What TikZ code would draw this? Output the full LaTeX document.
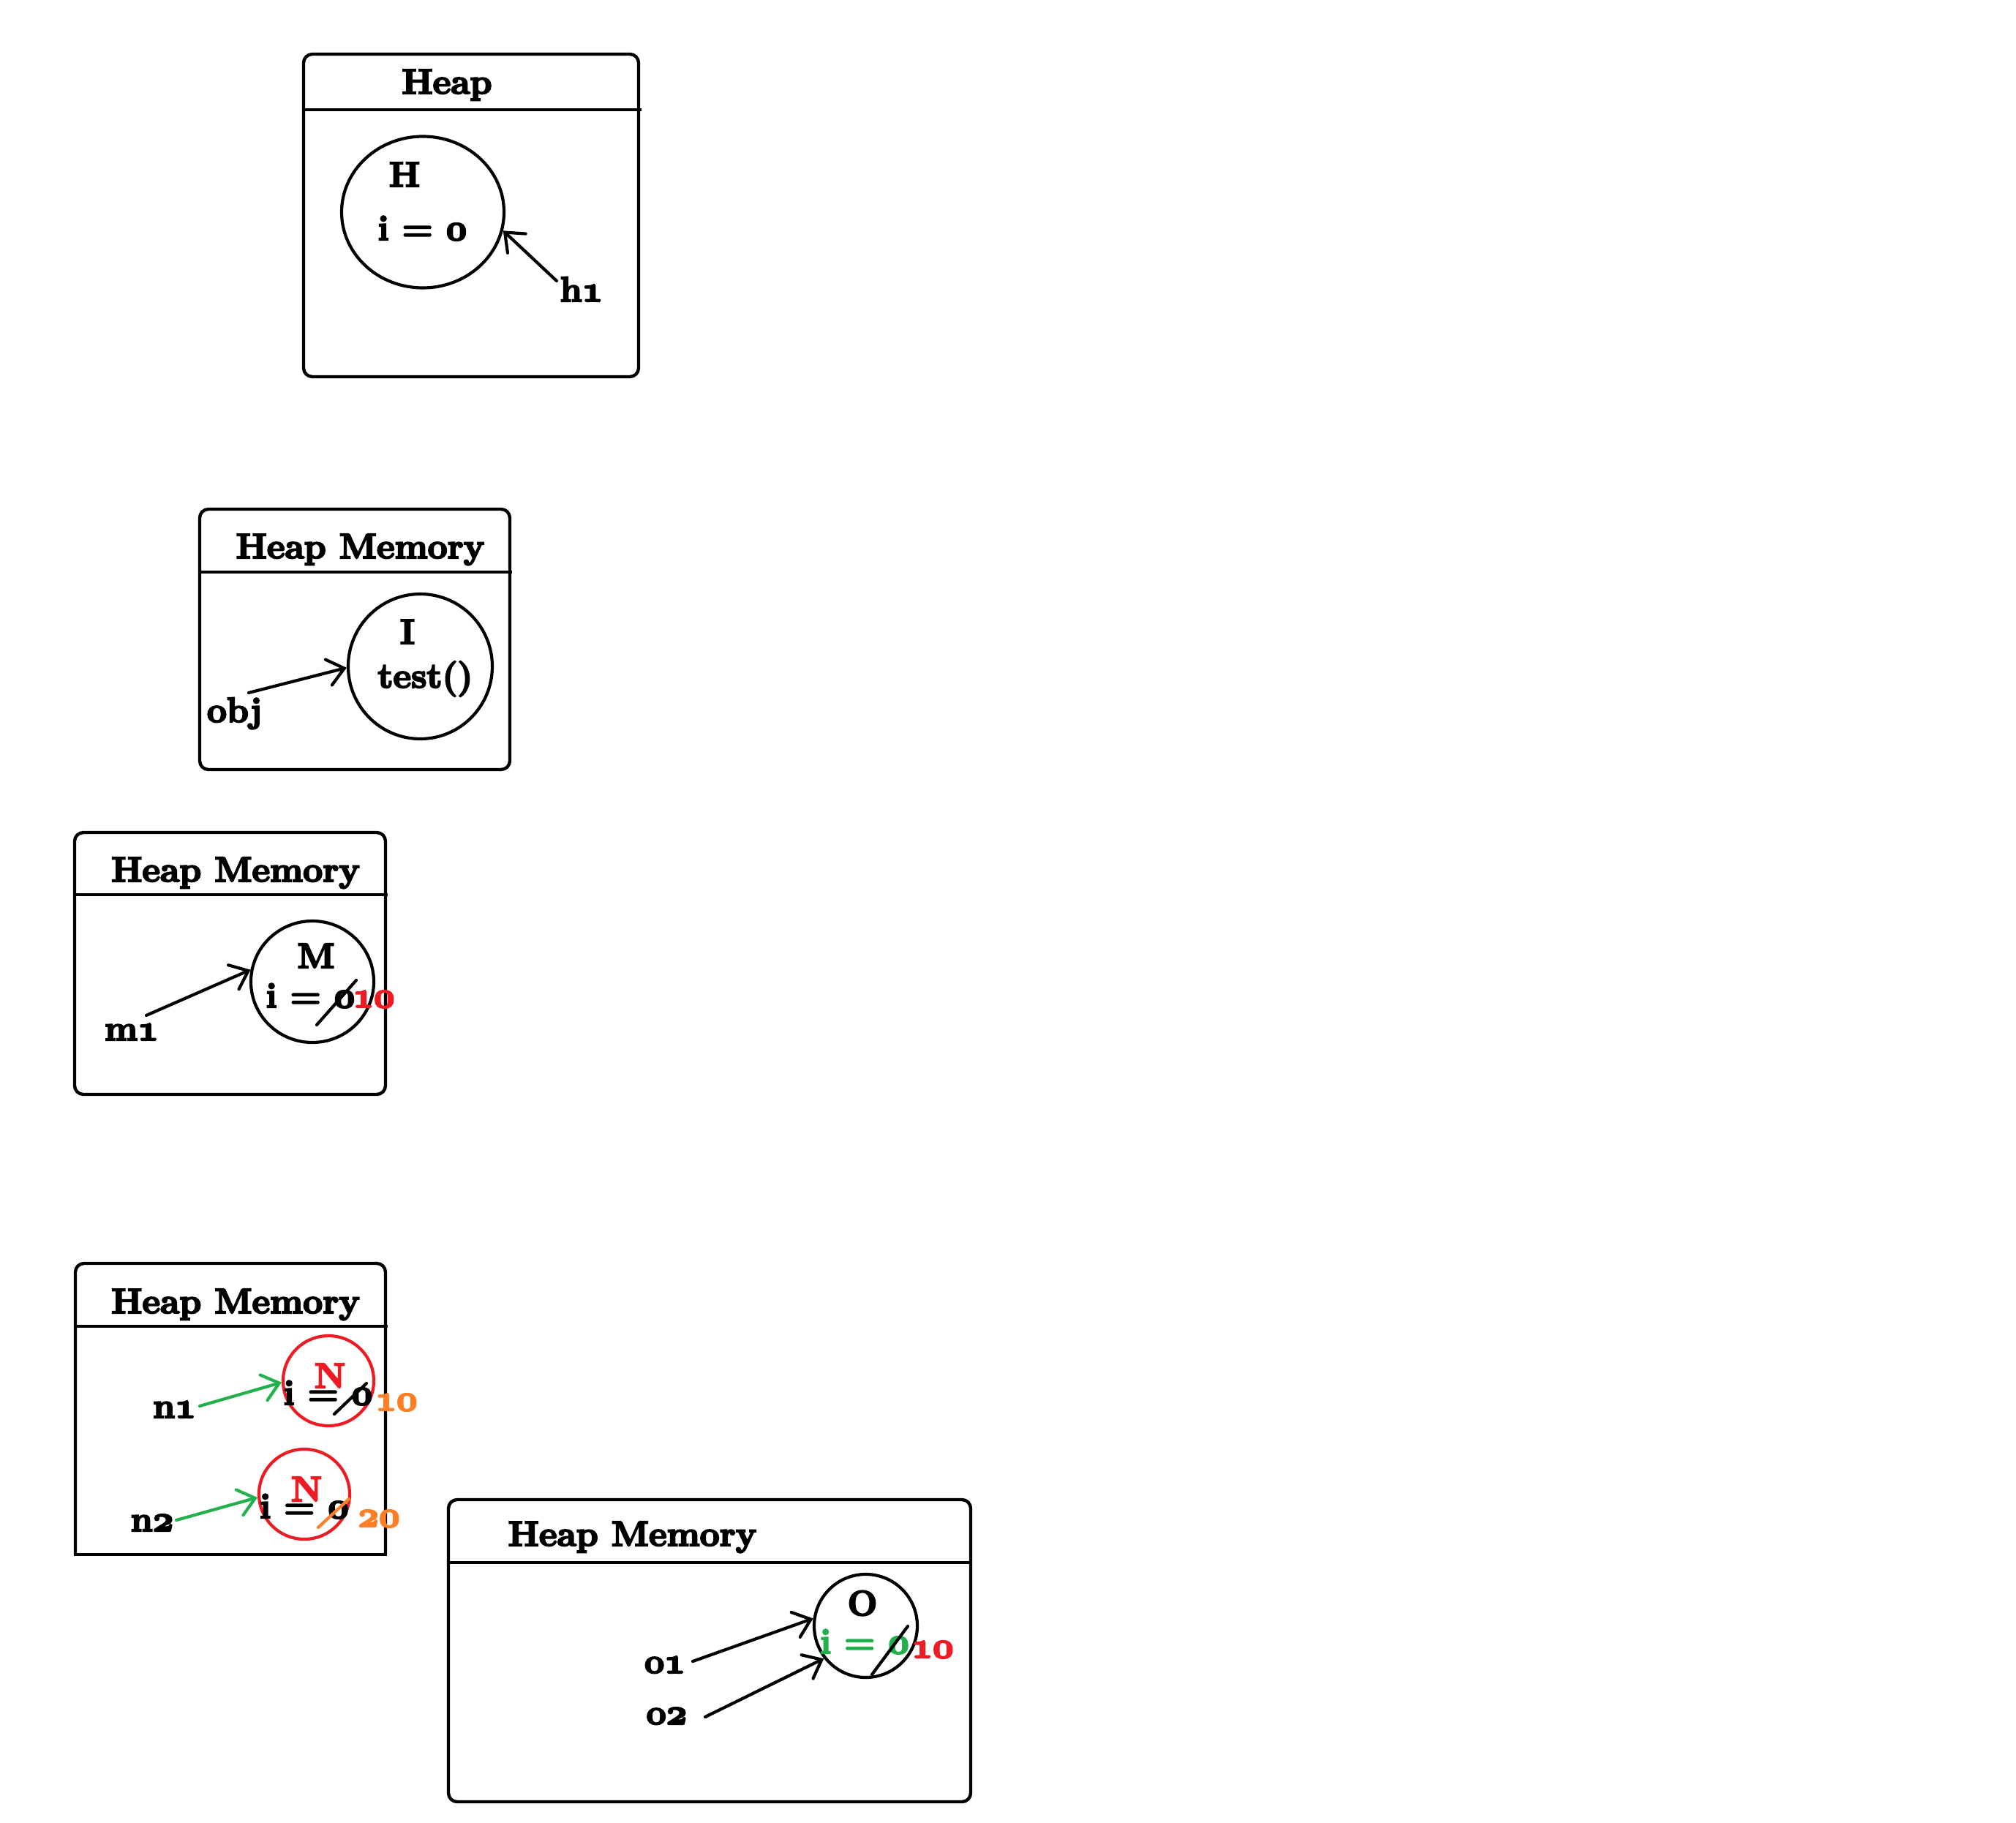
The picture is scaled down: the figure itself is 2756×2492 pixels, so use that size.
\documentclass[tikz,border=0pt]{standalone}
\usetikzlibrary{arrows.meta,shapes.geometric}
\definecolor{myred}{RGB}{237,28,36}
\definecolor{myorange}{RGB}{255,127,39}
\definecolor{mygreen}{RGB}{34,177,76}
\newcommand\myos[1]{{\usefont{OML}{cmm}{b}{it}#1}}
\newcommand\heavyon{\special{pdf:literal direct 2 Tr 1.1 w}}
\newcommand\heavyoff{\special{pdf:literal direct 0 Tr}}
\begin{document}
\begin{tikzpicture}[x=0.5pt,y=-0.5pt,
  boxline/.style={line width=2.2pt, rounded corners=6pt},
  hline/.style={line width=2.2pt},
  lbl/.style={inner sep=0pt, anchor=base, font=\fontsize{24pt}{28pt}\selectfont\bfseries,
    execute at begin node=\heavyon, execute at end node=\heavyoff},
  lblw/.style={lbl, anchor=base west},
  obj/.style={ellipse, draw, line width=2.1pt, inner sep=0pt},
  arr/.style={line width=2.1pt, line cap=round, -{Straight Barb[length=11pt,width=18pt,line cap=round]}},
  strike/.style={line width=2.1pt, line cap=round}]
\useasboundingbox (0,0) rectangle (2756,2492);
% ---------- Box 1 ----------
\draw[boxline] (415,74) rectangle (873,515);
\draw[hline] (415,150) -- (877,150);
\node[lbl] (t1) at (611,128) {Heap};
\node[obj, minimum width=111pt, minimum height=103.5pt] (H) at (578,290) {};
\node[lbl] (Hn) at (553,255) {H};
\node[lbl] (Hi) at (577.5,328) {i = \myos{0}};
\node[lbl] (h1) at (795,412) {h\myos{1}};
\coordinate (h1s) at (761,384);
\draw[arr] (h1s) -- (H.-13);
% ---------- Box 2 ----------
\draw[boxline] (273,696) rectangle (697,1052);
\draw[hline] (273,782) -- (700,782);
\node[lbl] (t2) at (492.5,763) {Heap Memory};
\node[obj, minimum width=98.5pt, minimum height=99pt] (I) at (574.5,911) {};
\node[lbl] (In) at (557,880) {I};
\node[lbl] (It) at (581.5,940) {test()};
\node[lbl] (objl) at (320.5,987) {obj};
\coordinate (objs) at (340,947);
\draw[arr] (objs) -- (I.181);
% ---------- Box 3 ----------
\draw[boxline] (102,1138) rectangle (527,1496);
\draw[hline] (102,1223) -- (530,1223);
\node[lbl] (t3) at (322,1205) {Heap Memory};
\node[obj, minimum width=84pt, minimum height=83pt] (M) at (427,1342) {};
\node[lbl] (Mn) at (432,1323) {M};
\node[lbl] (Mi) at (424.5,1377) {i = \myos{0}};
\node[lblw, text=myred] (M10) at (482,1377) {\myos{10}};
\draw[strike] (433,1401) -- (487,1340);
\node[lbl] (m1) at (180,1422) {m\myos{1}};
\coordinate (m1s) at (200,1388);
\draw[arr] (m1s) -- (M.169);
% ---------- Box 4 ----------
\draw[boxline] (103,2125) -- (103,1727) -- (527,1727) -- (527,2125);
\draw[hline, line cap=rect] (103,2125) -- (527,2125);
\draw[hline] (103,1813) -- (530,1813);
\node[lbl] (t4) at (322,1795) {Heap Memory};
\node[obj, draw=myred, minimum width=62pt, minimum height=61.5pt] (N1) at (449,1887.5) {};
\node[lbl, text=myred] (N1n) at (451,1897) {N};
\node[lbl] (N1i) at (448.5,1920) {i = \myos{0}};
\draw[strike] (457,1933) -- (501,1891);
\node[lblw, text=myorange] (N110) at (513,1928) {\myos{10}};
\node[lbl] (n1) at (238.5,1938) {n\myos{1}};
\coordinate (n1s) at (273,1922);
\draw[arr, mygreen] (n1s) -- (N1.182);
\node[obj, draw=myred, minimum width=62pt, minimum height=61.5pt] (N2) at (416,2042.5) {};
\node[lbl, text=myred] (N2n) at (419,2052) {N};
\node[lbl] (N2i) at (416,2075) {i = \myos{0}};
\draw[strike, myorange] (435,2088) -- (477,2049);
\node[lblw, text=myorange] (N220) at (489,2087) {\myos{20}};
\node[lbl] (n2) at (208,2093) {n\myos{2}};
\coordinate (n2s) at (241,2078);
\draw[arr, mygreen] (n2s) -- (N2.184);
% ---------- Box 5 ----------
\draw[boxline] (613,2050) rectangle (1327,2463);
\draw[hline] (613,2136) -- (1327,2136);
\node[lbl] (t5) at (864.5,2113) {Heap Memory};
\node[obj, minimum width=70.5pt, minimum height=70.5pt] (O) at (1183.5,2222.5) {};
\node[lbl] (On) at (1179,2208) {O};
\node[lbl, text=mygreen] (Oi) at (1182,2260) {i = \myos{0}};
\draw[strike] (1192,2289) -- (1241,2223);
\node[lblw, text=myred] (O10) at (1246,2266) {\myos{10}};
\node[lbl] (o1) at (909,2287) {o\myos{1}};
\node[lbl] (o2) at (911.5,2357) {o\myos{2}};
\coordinate (o1s) at (947,2271);
\coordinate (o2s) at (964,2347);
\draw[arr] (o1s) -- (O.172);
\draw[arr] (o2s) -- (O.218);
\end{tikzpicture}
\end{document}
